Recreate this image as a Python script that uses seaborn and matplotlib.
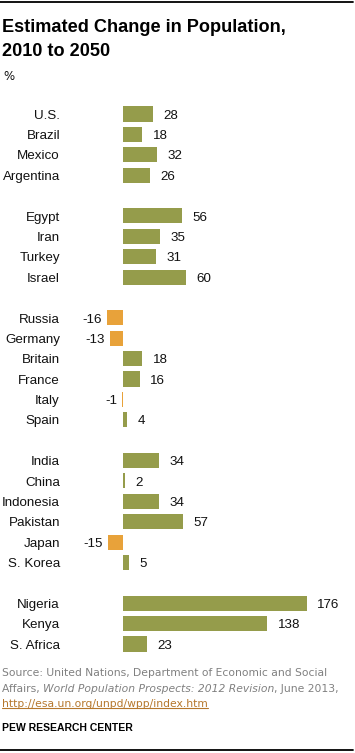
import matplotlib
matplotlib.use('Agg')
import matplotlib.pyplot as plt
import matplotlib.transforms as mtransforms
from matplotlib.lines import Line2D
import seaborn as sns
import pandas as pd
import numpy as np

# ---- data ----
countries = ["U.S.", "Brazil", "Mexico", "Argentina",
             "Egypt", "Iran", "Turkey", "Israel",
             "Russia", "Germany", "Britain", "France", "Italy", "Spain",
             "India", "China", "Indonesia", "Pakistan", "Japan", "S. Korea",
             "Nigeria", "Kenya", "S. Africa"]
values = [28, 18, 32, 26,
          56, 35, 31, 60,
          -16, -13, 18, 16, -1, 4,
          34, 2, 34, 57, -15, 5,
          176, 138, 23]
group_sizes = [4, 4, 6, 6, 3]

title_lines = ["Estimated Change in Population,", "2010 to 2050"]
unit_label = "%"
source_line1 = "Source: United Nations, Department of Economic and Social"
source_line2a = "Affairs, "
source_line2b = "World Population Prospects: 2012 Revision"
source_line2c = ", June 2013,"
source_url = "http://esa.un.org/unpd/wpp/index.htm"
brand = "PEW RESEARCH CENTER"

GREEN = "#959C4B"
ORANGE = "#E8A23A"
GRAY = "#808080"
LINK = "#B5772C"
TXT = "#111111"

# ---- layout ----
W, H = 355, 753
slots = []
i = 0
for n in group_sizes:
    for _ in range(n):
        slots.append(i)
        i += 1
    i += 1

df = pd.DataFrame({"country": countries, "value": values, "slot": slots})
df["sign"] = np.where(df["value"] < 0, "neg", "pos")

sns.set_theme(style="white")
plt.rcParams['font.family'] = ['Liberation Sans', 'DejaVu Sans']

fig = plt.figure(figsize=(W / 100, H / 100), dpi=100)
ax = fig.add_axes([0, 0, 1, 1])

sns.barplot(data=df, x="value", y="slot", hue="sign",
            palette={"pos": GREEN, "neg": ORANGE}, orient="h",
            native_scale=True, width=0.74, dodge=False, legend=False,
            saturation=1, errorbar=None, linewidth=0, ax=ax)

x0 = 123.3
ppu = (307 - x0) / 176
ax.set_xlim(-x0 / ppu, (W - x0) / ppu)
y0 = 114
pps = (644 - 114) / 26
ax.set_ylim((H - y0) / pps, -y0 / pps)
ax.axis("off")

blend = mtransforms.blended_transform_factory(fig.transFigure, ax.transData)
dy = -1.2
lfs = 9.6
for c, v, s in zip(df["country"], df["value"], df["slot"]):
    ax.annotate(c, xy=(60 / W, s), xycoords=blend, xytext=(0, dy),
                textcoords="offset points", ha="right", va="center",
                fontsize=lfs, color=TXT)
    if v >= 0:
        ax.annotate(str(v), xy=(v, s), xytext=(7.5, dy), textcoords="offset points",
                    ha="left", va="center", fontsize=lfs, color=TXT)
    else:
        ax.annotate(str(v), xy=(v, s), xytext=(-3.5, dy), textcoords="offset points",
                    ha="right", va="center", fontsize=lfs, color=TXT)

def fy(py):
    return 1 - py / H

fig.add_artist(Line2D([0, 353 / W], [fy(1.5)] * 2, color="black", lw=1.3))
fig.add_artist(Line2D([0, 353 / W], [fy(750)] * 2, color="black", lw=1.3))

tfs = 13.1
fig.text(2 / W, fy(28), title_lines[0], fontsize=tfs, fontweight="bold",
         ha="left", va="center", color="black")
fig.text(2 / W, fy(51), title_lines[1], fontsize=tfs, fontweight="bold",
         ha="left", va="center", color="black")
fig.text(3 / W, fy(77), unit_label, fontsize=8.5, ha="left", va="center",
         color=TXT, family=["DejaVu Sans"])

sfs = 7.75
fig.text(2 / W, fy(673), source_line1, fontsize=sfs, color=GRAY, ha="left",
         va="center", family=["DejaVu Sans"])
t1 = fig.text(2 / W, fy(689), source_line2a, fontsize=sfs, color=GRAY,
              ha="left", va="center", family=["DejaVu Sans"])
t2 = ax.annotate(source_line2b, xy=(1, 0), xycoords=t1, ha="left", va="bottom",
                 fontsize=sfs, color=GRAY, style="italic", family=["DejaVu Sans"])
t3 = ax.annotate(source_line2c, xy=(1, 0), xycoords=t2, ha="left", va="bottom",
                 fontsize=sfs, color=GRAY, family=["DejaVu Sans"])
tu = fig.text(2 / W, fy(704), source_url, fontsize=sfs, color=LINK, ha="left",
              va="center", family=["DejaVu Sans"])
fig.text(2 / W, fy(728), brand, fontsize=7.5, fontweight="bold", color="black",
         ha="left", va="center")

renderer = fig.canvas.get_renderer()
bb = tu.get_window_extent(renderer)
inv = fig.transFigure.inverted()
(xa, ya), (xb, yb) = inv.transform([[bb.x0, bb.y0], [bb.x1, bb.y1]])
uy = ya + (yb - ya) * 0.12
fig.add_artist(Line2D([xa, xb], [uy, uy], color=LINK, lw=0.8))

fig.savefig("out.png", dpi=100)
